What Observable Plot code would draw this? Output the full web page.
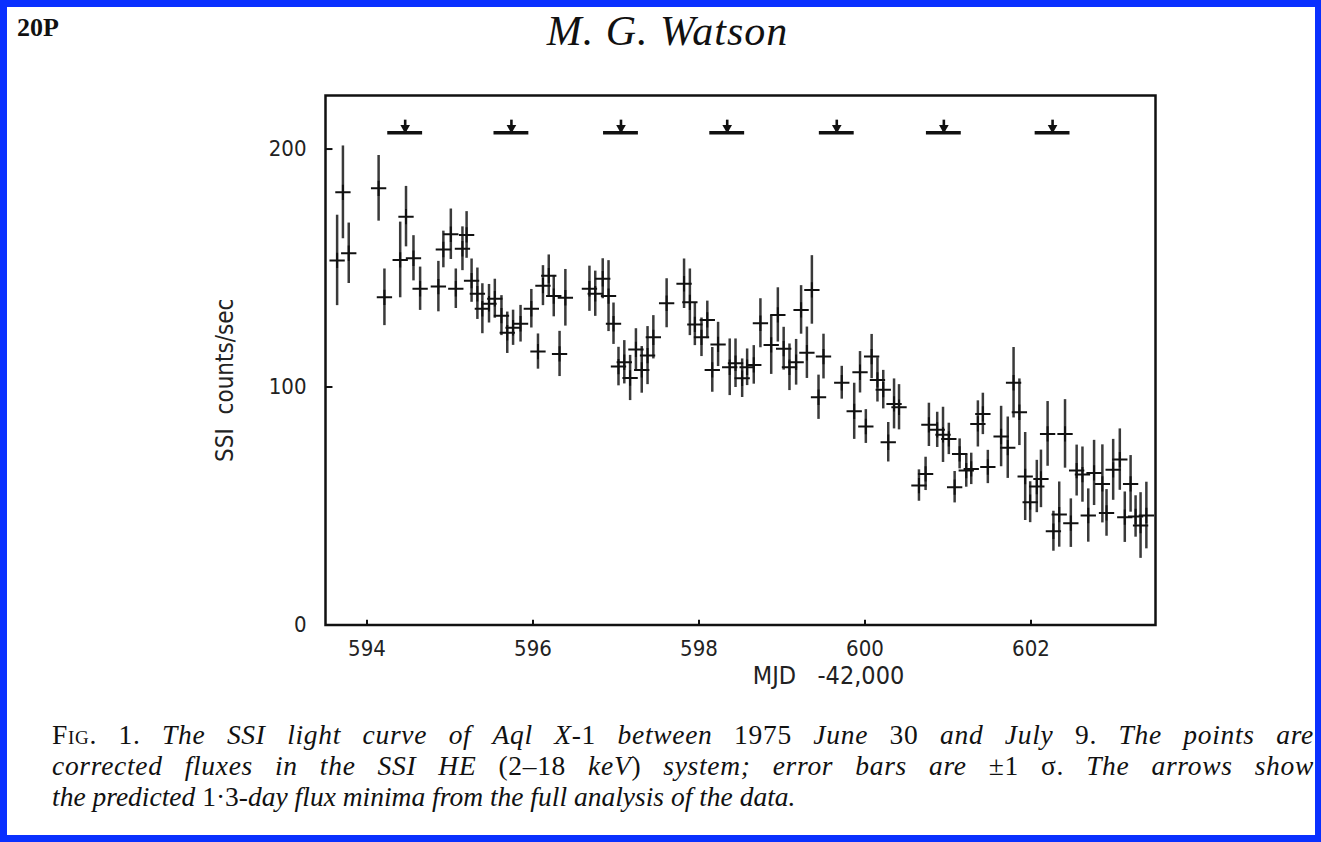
<!DOCTYPE html>
<html>
<head>
<meta charset="utf-8">
<script src="https://cdn.jsdelivr.net/npm/d3@7"></script>
<script src="https://cdn.jsdelivr.net/npm/@observablehq/plot@0.6"></script>
<style>
  html, body { margin: 0; padding: 0; background: #0a30ff; }
  #page { position: relative; width: 1321px; height: 842px; background: #0a30ff; overflow: hidden; }
  #paper { position: absolute; left: 7px; top: 7px; right: 6px; bottom: 7px; background: #fff; }
  #folio { position: absolute; left: 17px; top: 15px; font: bold 26px "Liberation Serif", serif; line-height: 26px; color: #111; }
  #author { position: absolute; left: 7px; width: 1321px; top: 9px; text-align: center; font: italic 42px "Liberation Serif", serif; line-height: 44px; letter-spacing: 1px; color: #111; }
  #chart { position: absolute; left: 0; top: 60px; }
  #caption { position: absolute; left: 52px; width: 1262px; top: 719px; font: 27.5px "Liberation Serif", serif; color: #111; line-height: 31px; }
  #caption .j { text-align: justify; text-align-last: justify; letter-spacing: 0.7px; }
  #caption .sc { font-variant: small-caps; }
</style>
</head>
<body>
<div id="page">
  <div id="paper"></div>
  <div id="folio">20P</div>
  <div id="author">M. G. Watson</div>
  <div id="chart"></div>
  <div id="caption">
    <div class="j"><span class="sc">Fig.</span> 1. <i>The SSI light curve of Aql X-</i>1 <i>between</i> 1975 <i>June</i> 30 <i>and July</i> 9. <i>The points are</i></div>
    <div class="j"><i>corrected fluxes in the SSI HE</i> (2–18 <i>keV</i>) <i>system; error bars are</i> ±1 σ. <i>The arrows show</i></div>
    <div><i>the predicted</i> 1·3-<i>day flux minima from the full analysis of the data.</i></div>
  </div>
</div>
<script>
// Light-curve points: MJD - 42,000, SSI counts/sec, ±1 sigma
const mjd = [593.64, 593.71, 593.78, 594.14, 594.21, 594.40, 594.47, 594.56, 594.64, 594.86,
  594.92, 595.01, 595.07, 595.15, 595.20, 595.26, 595.33, 595.39, 595.47, 595.54,
  595.62, 595.69, 595.76, 595.85, 595.98, 596.06, 596.12, 596.19, 596.25, 596.32,
  596.39, 596.68, 596.75, 596.84, 596.91, 596.97, 597.03, 597.10, 597.17, 597.24,
  597.31, 597.38, 597.45, 597.61, 597.82, 597.89, 597.95, 598.03, 598.10, 598.16,
  598.23, 598.37, 598.44, 598.52, 598.58, 598.66, 598.74, 598.87, 598.95, 599.02,
  599.09, 599.17, 599.23, 599.30, 599.36, 599.44, 599.50, 599.72, 599.87, 599.94,
  600.01, 600.08, 600.15, 600.22, 600.28, 600.35, 600.41, 600.65, 600.73, 600.77,
  600.87, 600.94, 601.01, 601.08, 601.14, 601.22, 601.28, 601.36, 601.42, 601.48,
  601.64, 601.72, 601.79, 601.86, 601.93, 601.99, 602.07, 602.12, 602.20, 602.27,
  602.34, 602.41, 602.48, 602.55, 602.62, 602.69, 602.76, 602.86, 602.91, 602.99,
  603.07, 603.13, 603.20, 603.26, 603.32, 603.39];
const rate = [153.2, 181.8, 156.2, 183.5, 137.7, 153.4, 171.6, 154.1, 141.3, 142.2,
  157.8, 164.2, 141.3, 158.1, 163.9, 144.7, 139.2, 132.9, 135.0, 137.1,
  130.0, 122.8, 124.9, 126.6, 132.9, 114.9, 142.6, 146.8, 138.2, 113.9,
  137.5, 141.3, 139.2, 145.5, 138.2, 126.6, 108.6, 110.4, 103.8, 115.8,
  107.2, 113.2, 120.9, 135.2, 143.4, 135.6, 126.3, 120.9, 128.2, 107.2,
  117.9, 108.3, 110.0, 103.7, 108.3, 109.3, 126.8, 117.7, 130.3, 116.1,
  108.3, 110.4, 132.4, 114.4, 140.8, 95.7, 112.8, 101.8, 89.8, 106.2,
  83.4, 112.8, 103.0, 98.9, 76.8, 92.9, 91.5, 58.6, 63.5, 84.1,
  82.0, 79.9, 78.2, 57.9, 71.9, 64.9, 65.6, 84.5, 88.7, 66.4,
  79.2, 74.5, 101.8, 89.4, 62.4, 51.6, 58.2, 61.4, 80.3, 39.4,
  46.4, 80.3, 42.8, 64.9, 63.2, 46.0, 63.9, 59.3, 47.1, 65.2,
  69.5, 45.3, 59.3, 45.6, 41.8, 46.0];
const sigma = [19.0, 19.5, 12.7, 13.8, 11.9, 15.9, 12.7, 9.5, 9.1, 10.6,
  7.7, 10.6, 8.3, 9.2, 9.8, 9.1, 10.8, 10.5, 8.1, 8.2,
  8.4, 8.7, 7.4, 7.7, 8.1, 7.4, 8.4, 8.7, 8.7, 9.5,
  11.9, 9.5, 9.5, 8.4, 14.9, 8.7, 8.1, 9.1, 9.5, 8.7,
  9.8, 12.2, 9.1, 10.3, 10.4, 14.0, 8.9, 8.1, 7.9, 9.4,
  9.3, 11.9, 10.2, 8.1, 7.7, 8.1, 10.3, 12.4, 11.4, 9.0,
  9.8, 9.6, 10.2, 10.8, 14.4, 9.3, 9.4, 6.9, 11.8, 8.7,
  7.1, 9.3, 9.3, 8.1, 8.3, 10.5, 9.5, 6.6, 7.0, 9.1,
  7.4, 11.6, 6.6, 6.6, 6.3, 7.0, 6.6, 9.7, 8.7, 7.0,
  12.7, 12.9, 14.8, 14.0, 18.5, 8.6, 11.0, 12.1, 13.6, 8.4,
  13.7, 14.4, 10.2, 10.7, 11.6, 11.2, 13.7, 16.4, 9.8, 12.8,
  12.9, 10.6, 11.9, 8.7, 13.8, 14.0];

// Predicted 1.3-day flux minima (arrows) and their uncertainty
const minima = [594.46, 595.74, 597.06, 598.34, 599.66, 600.95, 602.26];
const minimaHalfWidth = 0.21;
const minimaLevel = 206.8;

// Axis ticks and labels
const xTicks = [594, 596, 598, 600, 602];
const yTicks = [0, 100, 200];
const xDomain = [593.5, 603.5];
const yDomain = [0, 222.5];
const xLabel = "MJD\u00a0\u00a0\u00a0-42,000";
const yLabel = "SSI\u00a0\u00a0counts/sec";

const points = mjd.map((m, i) => ({mjd: m, rate: rate[i], sigma: sigma[i]}));
const tickLenX = (xDomain[1] - xDomain[0]) * 0.009;
const tickLenY = (yDomain[1] - yDomain[0]) * 0.009;
const stemLen = (yDomain[1] - yDomain[0]) * 0.024;

const chart = Plot.plot({
  width: 1321,
  height: 650,
  marginLeft: 325,
  marginRight: 166,
  marginTop: 35,
  marginBottom: 85.5,
  x: {domain: xDomain},
  y: {domain: yDomain},
  style: {fontFamily: "'DejaVu Sans Condensed', 'DejaVu Sans', sans-serif", fontSize: "22px", color: "#222", background: "transparent", overflow: "visible"},
  marks: [
    Plot.axisX({ticks: xTicks, tickSize: 0, tickPadding: 15, label: null, tickFormat: d => String(d), fontSize: 22}),
    Plot.axisY({ticks: yTicks, tickSize: 0, tickPadding: 19, label: null, tickFormat: d => String(d), fontSize: 22}),
    Plot.ruleX(xTicks, {x: d => d, y1: yDomain[0], y2: yDomain[0] + tickLenY, stroke: "#111", strokeWidth: 2}),
    Plot.ruleY(yTicks, {y: d => d, x1: xDomain[0], x2: xDomain[0] + tickLenX, stroke: "#111", strokeWidth: 2}),
    Plot.ruleX(points, {x: "mjd", y1: d => d.rate - d.sigma, y2: d => d.rate + d.sigma, stroke: "#3a3a3a", strokeWidth: 2.5}),
    Plot.dot(points, {x: "mjd", y: "rate", symbol: "plus", r: 5, stroke: "#111", strokeWidth: 2}),
    Plot.ruleY(minima, {y: minimaLevel, x1: d => d - minimaHalfWidth, x2: d => d + minimaHalfWidth, stroke: "#111", strokeWidth: 3.5}),
    Plot.ruleX(minima, {x: d => d, y1: minimaLevel, y2: minimaLevel + stemLen, stroke: "#111", strokeWidth: 2.6}),
    Plot.dot(minima, {x: d => d, y: minimaLevel, dy: -5, symbol: "triangle2", rotate: 180, r: 4.6, fill: "#111", stroke: "none"}),
    Plot.text([xLabel], {frameAnchor: "bottom", textAnchor: "middle", dx: 88, dy: 59, fontSize: 25, fill: "#222"}),
    Plot.text([yLabel], {frameAnchor: "left", textAnchor: "middle", lineAnchor: "middle", dx: -100, dy: 20, rotate: -90, fontSize: 24, fill: "#222"}),
    Plot.frame({stroke: "#111", strokeWidth: 2.5})
  ]
});
document.getElementById("chart").appendChild(chart);
</script>
</body>
</html>
